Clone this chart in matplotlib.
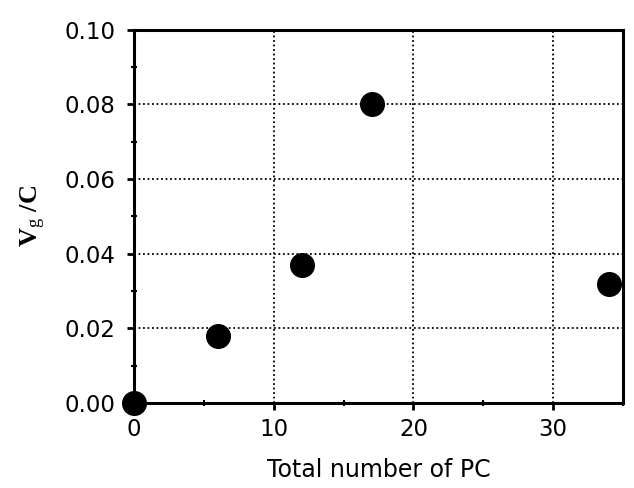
import matplotlib
matplotlib.use("Agg")
import matplotlib.pyplot as plt
from matplotlib.ticker import MultipleLocator

# data
n_pc = [0, 6, 12, 17, 34]
vg_c = [0.000, 0.018, 0.037, 0.080, 0.032]

x_ticks = [0, 10, 20, 30]
y_ticks = [0.00, 0.02, 0.04, 0.06, 0.08, 0.10]

plt.rcParams['mathtext.fontset'] = 'custom'
plt.rcParams['mathtext.rm'] = 'Liberation Serif'
plt.rcParams['mathtext.it'] = 'Liberation Serif'

fig = plt.figure(figsize=(6.34, 4.88), dpi=100)
ax = fig.add_axes([0.211, 0.174, 0.772, 0.765])

ax.plot(n_pc, vg_c, 'o', color='black', markersize=17, clip_on=False, zorder=5)

ax.set_xlim(0, 35)
ax.set_ylim(0, 0.10)
ax.set_xticks(x_ticks)
ax.set_yticks(y_ticks)
ax.set_yticklabels(["%.2f" % v for v in y_ticks])
ax.xaxis.set_minor_locator(MultipleLocator(5))
ax.yaxis.set_minor_locator(MultipleLocator(0.01))

# dotted grid on major ticks
ax.grid(True, which='major', color='black', linestyle=(0, (1, 1.5)), linewidth=1.3)
ax.set_axisbelow(True)

for s in ax.spines.values():
    s.set_linewidth(2.2)

ax.tick_params(which='major', direction='out', length=5, width=2, labelsize=16.5)
ax.tick_params(axis='y', which='major', pad=8)
ax.tick_params(axis='x', which='major', pad=6)
ax.tick_params(which='minor', direction='inout', length=5, width=1.5)

ax.set_xlabel("Total number of PC", fontsize=17, labelpad=12)
ax.set_ylabel(r"V$_{\rm g}$ /C", fontsize=19, family='Liberation Serif',
              fontweight='bold', labelpad=12)

fig.savefig("out.png", dpi=100)
